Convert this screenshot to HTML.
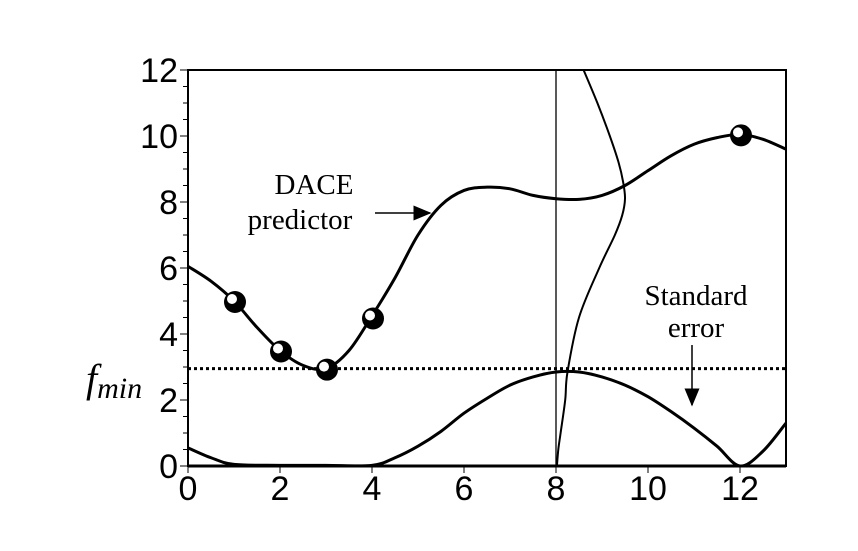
<!DOCTYPE html>
<html><head><meta charset="utf-8"><style>
body{margin:0;background:#fff;width:858px;height:546px;overflow:hidden}
svg text{font-family:"Liberation Sans",sans-serif}
svg text.serif{font-family:"Liberation Serif",serif}
.tick{font-size:34px}
</style></head><body>
<svg id="chart" width="858" height="546" xmlns="http://www.w3.org/2000/svg">
<g id="plot"></g>
</svg>
<script>
const xTicks=[0,2,4,6,8,10,12];
const yTicks=[0,2,4,6,8,10,12];
const predX=[0,0.5,1,1.5,2,2.5,3,3.5,4,4.5,5,5.5,6,6.5,7,7.5,8,8.5,9,9.5,10,10.5,11,11.5,12,12.5,13];
const predY=[6.05,5.6,5.0,4.2,3.5,3.05,2.95,3.5,4.55,5.7,7.0,7.9,8.35,8.45,8.4,8.2,8.1,8.08,8.2,8.5,8.95,9.4,9.75,9.95,10.05,9.9,9.6];
const errX=[0,0.5,1,2,3,4,4.5,5,5.5,6,6.5,7,7.5,8,8.5,9,9.5,10,10.5,11,11.5,12,12.5,13];
const errY=[0.55,0.25,0.05,0.02,0.02,0.02,0.25,0.6,1.05,1.6,2.05,2.45,2.7,2.85,2.85,2.7,2.45,2.1,1.65,1.15,0.6,0,0.45,1.3];
const sampleX=[1,2,3,4,12];
const sampleY=[5.0,3.5,2.95,4.5,10.05];
const gaussY=[0,0.5,1,2,2.85,4.5,6,7,7.6,8.1,8.6,9.2,10,11,12];
const gaussX=[8.02,8.05,8.1,8.2,8.25,8.5,8.94,9.28,9.44,9.5,9.46,9.36,9.17,8.9,8.6];
const fmin=2.95;
const X=v=>188+v*46, Y=v=>466-v*33;
const g=document.getElementById('plot');
const NS='http://www.w3.org/2000/svg';
function mk(t,a){const e=document.createElementNS(NS,t);for(const k in a)e.setAttribute(k,a[k]);g.appendChild(e);return e;}
function smooth(xs,ys){let p=[];for(let i=0;i<xs.length;i++)p.push([X(xs[i]),Y(ys[i])]);let d='M'+p[0];for(let i=0;i<p.length-1;i++){const p0=p[i-1]||p[i],p1=p[i],p2=p[i+1],p3=p[i+2]||p2;d+=' C'+(p1[0]+(p2[0]-p0[0])/6)+','+(p1[1]+(p2[1]-p0[1])/6)+' '+(p2[0]-(p3[0]-p1[0])/6)+','+(p2[1]-(p3[1]-p1[1])/6)+' '+p2;}return d;}
let e;
e=mk('rect',{x:X(0),y:Y(12),width:X(13)-X(0),height:Y(0)-Y(12),fill:'none',stroke:'#000','stroke-width':2});


e=mk('line',{x1:X(0),y1:Y(0),x2:X(13),y2:Y(0),stroke:'#000','stroke-width':3});


for(let v=0;v<=12;v+=0.5){e=mk('line',{x1:X(0)-(v%2==0?8:5),y1:Y(v),x2:X(0),y2:Y(v),stroke:'#000','stroke-width':1});

}
yTicks.forEach(v=>{e=mk('text',{x:X(0)-10,y:Y(v)+12,'text-anchor':'end','class':'tick'});e.textContent=v;

});
xTicks.forEach(v=>{e=mk('line',{x1:X(v),y1:Y(0),x2:X(v),y2:Y(0)+7,stroke:'#000','stroke-width':1});


e=mk('text',{x:X(v),y:Y(0)+34,'text-anchor':'middle','class':'tick'});e.textContent=v;

});
e=mk('line',{x1:X(8),y1:Y(12),x2:X(8),y2:Y(0),stroke:'#000','stroke-width':1.3});


e=mk('line',{x1:X(0),y1:Y(fmin),x2:X(13),y2:Y(fmin),stroke:'#000','stroke-width':3,'stroke-dasharray':'3,3'});


e=mk('path',{d:smooth(predX,predY),fill:'none',stroke:'#000','stroke-width':3});


e=mk('path',{d:smooth(errX,errY),fill:'none',stroke:'#000','stroke-width':3});


e=mk('path',{d:smooth(gaussX,gaussY),fill:'none',stroke:'#000','stroke-width':2});


sampleX.forEach((v,i)=>{e=mk('circle',{cx:X(v)+1,cy:Y(sampleY[i])+1,r:11,fill:'#000'});


e=mk('circle',{cx:X(v)-2,cy:Y(sampleY[i])-2,r:5,fill:'#fff'});

});
</script>
<svg style="position:absolute;left:0;top:0" width="858" height="546">
<defs><marker id="ah2" markerWidth="12" markerHeight="10" refX="11" refY="5" orient="auto"><path d="M0,0 L12,5 L0,10 z" fill="#000"/></marker></defs>
<text class="serif" x="314" y="194" text-anchor="middle" style="font-size:29px">DACE</text>
<text class="serif" x="300" y="229" text-anchor="middle" style="font-size:29px">predictor</text>
<line x1="375" y1="213" x2="430" y2="213" stroke="#000" stroke-width="1.5" marker-end="url(#ah2)"/>
<text class="serif" x="696" y="305" text-anchor="middle" style="font-size:29px">Standard</text>
<text class="serif" x="696" y="337" text-anchor="middle" style="font-size:29px">error</text>
<line x1="692" y1="345" x2="692" y2="405" stroke="#000" stroke-width="1.5" marker-end="url(#ah2)"/>
<text class="serif" x="86" y="392" style="font-size:40px;font-style:italic">f<tspan style="font-size:30px" dy="6">min</tspan></text>
</svg>
</body></html>
